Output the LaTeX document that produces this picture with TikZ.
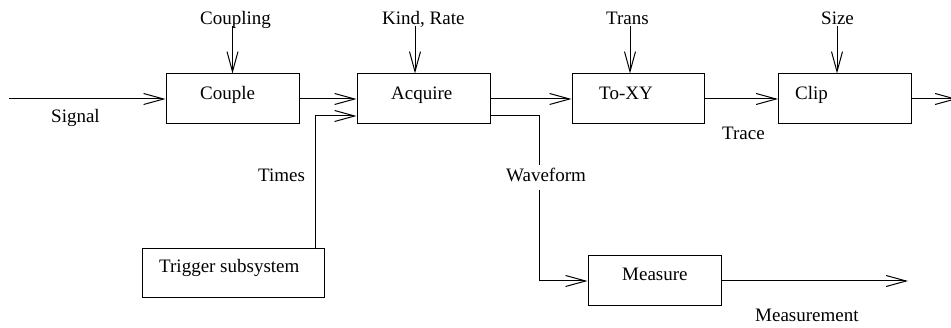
\documentclass[tikz,border=0pt]{standalone}
\usepackage{fontspec}
\setmainfont{Liberation Serif}
\usetikzlibrary{arrows.meta}
\begin{document}
\begin{tikzpicture}[x=1pt,y=-1pt,
  every node/.style={font=\fontsize{19}{23}\selectfont},
  block/.style={draw, line width=1pt, minimum height=50pt, inner sep=0pt},
  txt/.style={anchor=base west, inner sep=0pt},
  flow/.style={line width=1pt, -{Straight Barb[length=20pt,width=11pt,line width=1pt]}},
  wire/.style={line width=1pt}]
\useasboundingbox (0,0) rectangle (951,328);

% blocks
\node[block, minimum width=133pt] (cpl) at (232.5,99) {};
\node[block, minimum width=133pt] (acq) at (423.5,99) {};
\node[block, minimum width=132pt] (xy)  at (638,99) {};
\node[block, minimum width=133pt] (clp) at (845,99) {};
\node[block, minimum width=182pt, minimum height=49pt] (trg) at (233,273) {};
\node[block, minimum width=133pt] (msr) at (654.5,281) {};

% block titles
\node[txt] (cplT) at (200,100) {Couple};
\node[txt] (acqT) at (391,100) {Acquire};
\node[txt] (xyT)  at (599,100) {To-XY};
\node[txt] (clpT) at (795,100) {Clip};
\node[txt] (trgT) at (159,273) {Trigger subsystem};
\node[txt] (msrT) at (622,281) {Measure};

% parameter labels and their inputs
\node[txt] (pCoup) at (200,25) {Coupling};
\node[txt] (pKind) at (382,25) {Kind, Rate};
\node[txt] (pTrans) at (606,25) {Trans};
\node[txt] (pSize) at (821,25) {Size};
\coordinate (inCoup) at (232.5,26);
\coordinate (inKind) at (415,26);
\coordinate (inTrans) at (630,26);
\coordinate (inSize) at (837,26);
\draw[flow] (inCoup) -- (inCoup |- cpl.north);
\draw[flow] (inKind) -- (inKind |- acq.north);
\draw[flow] (inTrans) -- (inTrans |- xy.north);
\draw[flow] (inSize) -- (inSize |- clp.north);

% main signal chain
\coordinate (src) at (9,99);
\coordinate (out) at (957,99);
\draw[flow] (src) -- (cpl.west);
\draw[flow] (cpl.east) -- (acq.west);
\draw[flow] (acq.east) -- (xy.west);
\draw[flow] (xy.east) -- (clp.west);
\draw[flow] (clp.east) -- (out);

% trigger times into the acquisition block
\coordinate (tUp) at (315,0);
\draw[flow] (tUp |- trg.north) |- ([yshift=-17pt]acq.west);

% waveform branch to measurement
\coordinate (wDown) at (539,0);
\draw[wire, -{Straight Barb[length=20pt,width=11pt,line width=1pt]}]
  ([yshift=-17pt]acq.east) -| (wDown |- msr.west) -- (msr.west);
\coordinate (mOut) at (908,281);
\draw[flow] (msr.east) -- (mOut);

% flow labels
\node[txt] (lSig) at (51,123) {Signal};
\node[txt] (lTimes) at (258,182) {Times};
\node[txt, fill=white, inner ysep=4pt, text depth=4pt] (lWave) at (506,182) {Waveform};
\node[txt] (lTrace) at (722,140) {Trace};
\node[txt] (lMeas) at (755,322) {Measurement};
\end{tikzpicture}
\end{document}
